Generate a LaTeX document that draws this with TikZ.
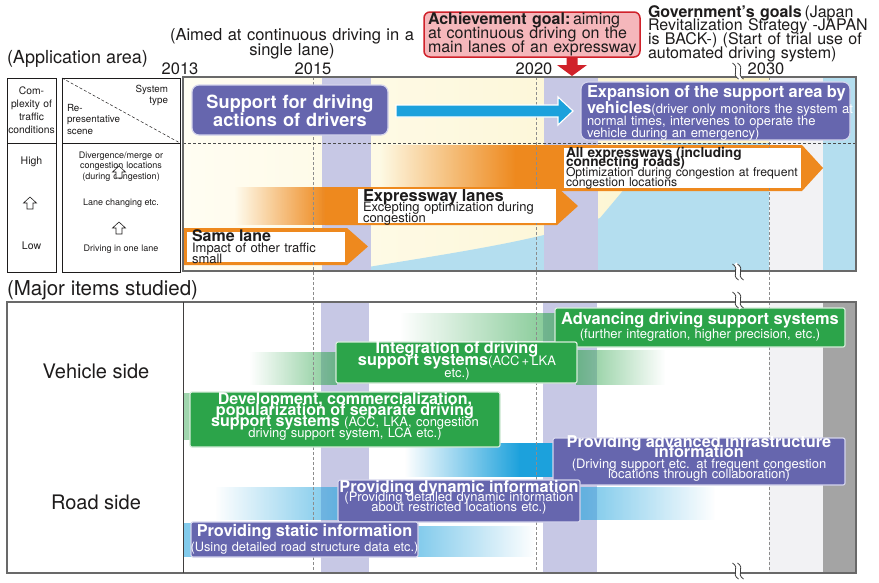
\documentclass[tikz,border=0pt]{standalone}
\usepackage{fontspec}
\setmainfont{TeX Gyre Heros}
\usetikzlibrary{fadings,calc}

\definecolor{cInk}{RGB}{30,28,28}
\definecolor{cPurple}{RGB}{102,102,174}
\definecolor{cPurpleEdge}{RGB}{212,212,236}
\definecolor{cGreen}{RGB}{44,164,74}
\definecolor{cGreenEdge}{RGB}{214,236,218}
\definecolor{cOrange}{RGB}{238,137,30}
\definecolor{cSky}{RGB}{28,161,220}
\definecolor{cLav}{RGB}{199,200,229}
\definecolor{cPaleBlue}{RGB}{180,222,239}
\definecolor{cCream}{RGB}{251,242,196}
\definecolor{cCreamL}{RGB}{255,253,242}
\definecolor{cRed}{RGB}{208,33,42}
\definecolor{cPink}{RGB}{245,183,187}
\definecolor{cFrame}{RGB}{105,105,105}
\definecolor{cDash}{RGB}{140,140,140}
\definecolor{cMist}{RGB}{242,242,244}
\definecolor{cSteel}{RGB}{164,164,164}

\tikzfading[name=fadein, left color=transparent!100, right color=transparent!0]
\tikzfading[name=fadeinsoft, left color=transparent!100, right color=transparent!40]
\tikzfading[name=fadeout, left color=transparent!0, right color=transparent!100]
\tikzfading[name=fadeoutsoft, left color=transparent!40, right color=transparent!100]

% size / leading with lines allowed to sit closer than their glyphs
\newcommand\fz[2]{\fontsize{#1}{#2}\selectfont\lineskiplimit=-100pt\relax}
\newcommand\hb[2]{{\bfseries\fontsize{#1}{#1}\selectfont #2}}

\tikzset{
  every node/.style={inner sep=0pt, outer sep=0pt, text=cInk},
  tbox/.style={draw=cInk, line width=0.8pt},
  frame/.style={draw=cFrame, line width=1.5pt},
  pbox/.style={fill=cPurple, draw=cPurpleEdge, line width=1.2pt, rounded corners=2pt},
  gbox/.style={fill=cGreen, draw=cGreenEdge, line width=1.2pt, rounded corners=2pt},
  wtxt/.style={text=white, anchor=base, align=center},
  vdash/.style={draw=cDash, line width=0.9pt, dash pattern=on 3pt off 2pt},
  hdash/.style={draw=black!70, line width=1pt, dash pattern=on 3pt off 2pt},
  uparrow/.pic={\draw[cInk, line width=0.6pt, fill=white] (0,-6) -- (6.5,0) -- (3,0) -- (3,6) -- (-3,6) -- (-3,0) -- (-6.5,0) -- cycle;},
  breakmark/.pic={
    \draw[white, line width=4pt] (-3,-8) .. controls (5,-3) and (-5,3) .. (3,8);
    \draw[black!75, line width=0.8pt] (-5.5,-8) .. controls (2.5,-3) and (-7.5,3) .. (0.5,8);
    \draw[black!75, line width=0.8pt] (-0.5,-8) .. controls (7.5,-3) and (-2.5,3) .. (5.5,8);}
}

\begin{document}
\begin{tikzpicture}[x=1pt,y=-1pt]
\useasboundingbox (0,0) rectangle (879,582);
\fill[white] (0,0) rectangle (879,582);

% ---------- upper chart backgrounds
\begin{scope}
  \clip (183,77) rectangle (856,271);
  \shade[left color=cCreamL, right color=cCream] (183,77) rectangle (856,271);
  \fill[cPaleBlue] (345,271) .. controls (430,256) and (540,242) .. (600,218) -- (663,143) -- (856,143) -- (856,271) -- cycle;
  \fill[cMist] (769,77) rectangle (823,271);
  \fill[cPaleBlue] (823,77) rectangle (856,271);
  \fill[cLav] (322,77) rectangle (371,271);
  \fill[cLav] (544,77) rectangle (598,271);
\end{scope}

% ---------- lower chart backgrounds
\fill[cLav] (321,302) rectangle (369,573);
\fill[cLav] (543,302) rectangle (597,573);
\fill[cMist] (769,302) rectangle (823,573);
\fill[cSteel] (823,302) rectangle (856,573);

% ---------- orange level arrows
\fill[cOrange, path fading=fadein] (380,145) rectangle (516,191);
\fill[cOrange] (515,145) -- (802,145) -- (823,168) -- (802,191) -- (515,191) -- cycle;
\fill[cOrange, path fading=fadein] (235,187) rectangle (326,225);
\fill[cOrange] (325,187) -- (557,187) -- (578,206) -- (557,225) -- (325,225) -- cycle;
\fill[cOrange] (184,228) -- (347,228) -- (368,246.5) -- (347,265) -- (184,265) -- cycle;

% ---------- lead-in / trailing bands of the study items
\fill[cGreen, path fading=fadeinsoft] (400,313) rectangle (556,341);
\fill[cGreen, path fading=fadeinsoft] (250,352) rectangle (337,385);
\fill[cGreen, path fading=fadeoutsoft] (576,350) rectangle (665,385);
\fill[cGreen!45] (183.8,393) rectangle (191,440);
\fill[cSky, path fading=fadein] (405,443) rectangle (520,477);
\fill[cSky] (519,443) rectangle (554,477);
\fill[cSky, path fading=fadeinsoft] (215,487) rectangle (339,520);
\fill[cSky, path fading=fadeoutsoft] (579,487) rectangle (715,520);
\fill[cSky!55] (183.8,523) rectangle (192,557);
\fill[cSky!55, path fading=fadeout] (417,526) rectangle (535,557);

% ---------- year guides
\draw[vdash] (313,77) -- (313,573);
\draw[vdash] (536,77) -- (536,573);
\draw[vdash] (769,77) -- (769,573);
\draw[hdash] (183,143) -- (856,143);

% ---------- frames
\node[frame, minimum width=673pt, minimum height=194pt] (upperChart) at (519.5,174) {};
\node[frame, minimum width=849pt, minimum height=271pt] (lowerChart) at (431.5,437.5) {};
\draw[cInk!85, line width=1pt] (lowerChart.north -| 183,0) -- (lowerChart.south -| 183,0);

% ---------- headings
\node[anchor=base west, font=\fz{18}{18}] (appArea) at (7,63) {(Application area)};
\node[anchor=base, text width=270pt, align=center, font=\fz{16.5}{15.5}] (aimed) at (292,40) {(Aimed at continuous driving in a\\single lane)};
\node[anchor=base, font=\fz{16.5}{16.5}] (y2013) at (180,74) {2013};
\node[anchor=base, font=\fz{16.5}{16.5}] (y2015) at (313,74) {2015};
\node[anchor=base, font=\fz{16.5}{16.5}] (y2020) at (534,74) {2020};
\node[anchor=base, font=\fz{16.5}{16.5}] (y2030) at (766,74) {2030};

\node[fill=cPink, draw=cRed, line width=1.5pt, rounded corners=6pt, minimum width=216pt, minimum height=45pt] (goalBox) at (532,34.5) {};
\node[anchor=base west, text width=214pt, align=left, font=\fz{16}{14}] (goalText) at (428,24.5) {\textbf{Achievement goal:}\,aiming\\at continuous driving on the\\main lanes of an expressway};
\coordinate (raTop) at ($(goalBox.south)+(40,1)$);
\fill[cRed] ($(raTop)+(-5.5,0)$) -- ($(raTop)+(5.5,0)$) -- ($(raTop)+(5.5,7)$) -- ($(raTop)+(15,7)$) -- ($(raTop)+(0,18)$) -- ($(raTop)+(-15,7)$) -- ($(raTop)+(-5.5,7)$) -- cycle;

\node[anchor=base west, text width=230pt, align=left, font=\fz{16}{13.9}] (govText) at (648,17) {\textbf{Government’s goals}\,(Japan\\Revitalization Strategy -JAPAN\\is BACK-) (Start of trial use of\\automated driving system)};

% ---------- application-area table
\node[tbox, minimum width=49pt, minimum height=194pt] (cplxCol) at (31.5,175) {};
\node[tbox, minimum width=118pt, minimum height=194pt] (sceneCol) at (121,175) {};
\draw[cInk, line width=0.8pt] (cplxCol.west |- 0,143) -- (cplxCol.east |- 0,143);
\draw[cInk, line width=0.8pt] (sceneCol.west |- 0,143) -- (sceneCol.east |- 0,143);
\draw[cInk, line width=0.5pt, densely dashed] (sceneCol.north west) -- (sceneCol.east |- 0,143);

\node[anchor=base, text width=52pt, align=center, font=\fz{10.3}{13}] (cplxHead) at (31.5,94) {Com-\\plexity of\\traffic\\conditions};
\node[anchor=base, font=\fz{10.5}{10.5}] (high) at (31.5,164) {High};
\pic at (30,203) {uparrow};
\node[anchor=base, font=\fz{10.5}{10.5}] (low) at (31.5,249) {Low};
\node[anchor=base east, text width=60pt, align=right, font=\fz{9.8}{11}] (sysType) at (168,92) {System\\type};
\node[anchor=base west, text width=70pt, align=left, font=\fz{9.8}{11.8}] (repScene) at (67,111) {Re-\\presentative\\scene};
\node[anchor=base, text width=118pt, align=center, font=\fz{9}{10.6}] (scHigh) at (121,158) {Divergence/merge or\\congestion locations\\(during congestion)};
\pic at (119,172) {uparrow};
\node[anchor=base, font=\fz{9}{9}] (scMid) at (121,205) {Lane changing etc.};
\pic at (119,228) {uparrow};
\node[anchor=base, font=\fz{9}{9}] (scLow) at (121,251) {Driving in one lane};

% ---------- upper chart contents
\fill[white] (187,231.5) rectangle (345,262);
\fill[white] (358,189) rectangle (556,223);
\fill[white] (564,148) rectangle (801,188);
\node[anchor=base west, text width=170pt, align=left, font=\fz{13}{11}] (sameText) at (192,241) {\hb{16}{Same lane}\\Impact of other traffic\\small};
\node[anchor=base west, text width=200pt, align=left, font=\fz{13}{10.5}] (expwText) at (363,201) {\hb{16.4}{Expressway lanes}\\Excepting optimization during\\congestion};
\node[anchor=base west, text width=250pt, align=left, font=\fz{12.2}{9.8}] (allText) at (566,157) {\hb{13.7}{All expressways (including}\\\hb{13.7}{connecting roads)}\\Optimization during congestion at frequent\\congestion locations};

\node[pbox, rounded corners=7pt, minimum width=196pt, minimum height=50pt] (supBox) at (290,110) {};
\node[wtxt, text width=200pt, font=\fz{18.2}{18}\bfseries] (supText) at (290,108.5) {Support for driving\\actions of drivers};
\node[pbox, rounded corners=7pt, minimum width=269pt, minimum height=58pt] (expBox) at (715.5,111) {};
\node[anchor=base west, text=white, text width=280pt, align=left, font=\fz{13}{12}] (expText) at (587,97) {\hb{16.4}{Expansion of the support area by}\\[4pt]\hb{16.4}{vehicles}(driver only monitors the system at\\normal times, intervenes to operate the\\vehicle during an emergency)};
\coordinate (baS) at ($(supBox.east)+(8,1)$);
\coordinate (baE) at ($(expBox.west)+(-8,0)$);
\filldraw[fill=cSky, draw=white, line width=1.2pt] ($(baS)+(0,-6)$) -- ($(baE)+(-15,-6)$) -- ($(baE)+(-15,-14)$) -- (baE) -- ($(baE)+(-15,14)$) -- ($(baE)+(-15,6)$) -- ($(baS)+(0,6)$) -- cycle;

% ---------- major items studied
\node[anchor=base west, font=\fz{20.5}{20.5}] (majorItems) at (7,295) {(Major items studied)};
\node[anchor=base, font=\fz{20}{20}] (vehSide) at (96,378) {Vehicle side};
\node[anchor=base, font=\fz{20}{20}] (roadSide) at (96,509.5) {Road side};

\node[gbox, minimum width=290pt, minimum height=39pt] (advBox) at (700,327.5) {};
\node[wtxt, text width=310pt, font=\fz{13}{14.5}] (advText) at (700,324) {\hb{16.4}{Advancing driving support systems}\\(further integration, higher precision, etc.)};

\node[gbox, minimum width=241pt, minimum height=41pt] (intBox) at (456.5,362.5) {};
\node[wtxt, text width=260pt, font=\fz{13}{12}] (intText) at (457,353.5) {\hb{16.3}{Integration of driving}\\\hb{16.3}{support systems}(ACC\,+\,LKA\\etc.)};

\node[gbox, minimum width=310pt, minimum height=55pt] (devBox) at (345,419.5) {};
\node[wtxt, text width=330pt, font=\fz{13}{11}] (devText) at (345,404.5) {\hb{16.1}{Development, commercialization,}\\\hb{16.1}{popularization of separate driving}\\\hb{16.1}{support systems} (ACC, LKA, congestion\\driving support system, LCA etc.)};

\node[pbox, minimum width=292pt, minimum height=47pt] (infBox) at (699,461.5) {};
\node[wtxt, text width=312pt, font=\fz{13}{10.5}] (infText) at (699,447) {\hb{16.3}{Providing advanced infrastructure}\\\hb{16.3}{information}\\(Driving support etc. at frequent congestion\\locations through collaboration)};

\node[pbox, minimum width=242pt, minimum height=42pt] (dynBox) at (459,501) {};
\node[wtxt, text width=262pt, font=\fz{13}{9.5}] (dynText) at (459,492) {\hb{16.3}{Providing dynamic information}\\(Providing detailed dynamic information\\about restricted locations etc.)};

\node[pbox, minimum width=227pt, minimum height=35pt] (statBox) at (304.5,539.5) {};
\node[wtxt, text width=250pt, font=\fz{12.8}{15}] (statText) at (304.5,536) {\hb{16.3}{Providing static information}\\(Using detailed road structure data etc.)};

% ---------- time-axis breaks
\pic at (738,71) {breakmark};
\pic at (738,272) {breakmark};
\pic at (738,300) {breakmark};
\pic at (738,571) {breakmark};
\end{tikzpicture}
\end{document}
